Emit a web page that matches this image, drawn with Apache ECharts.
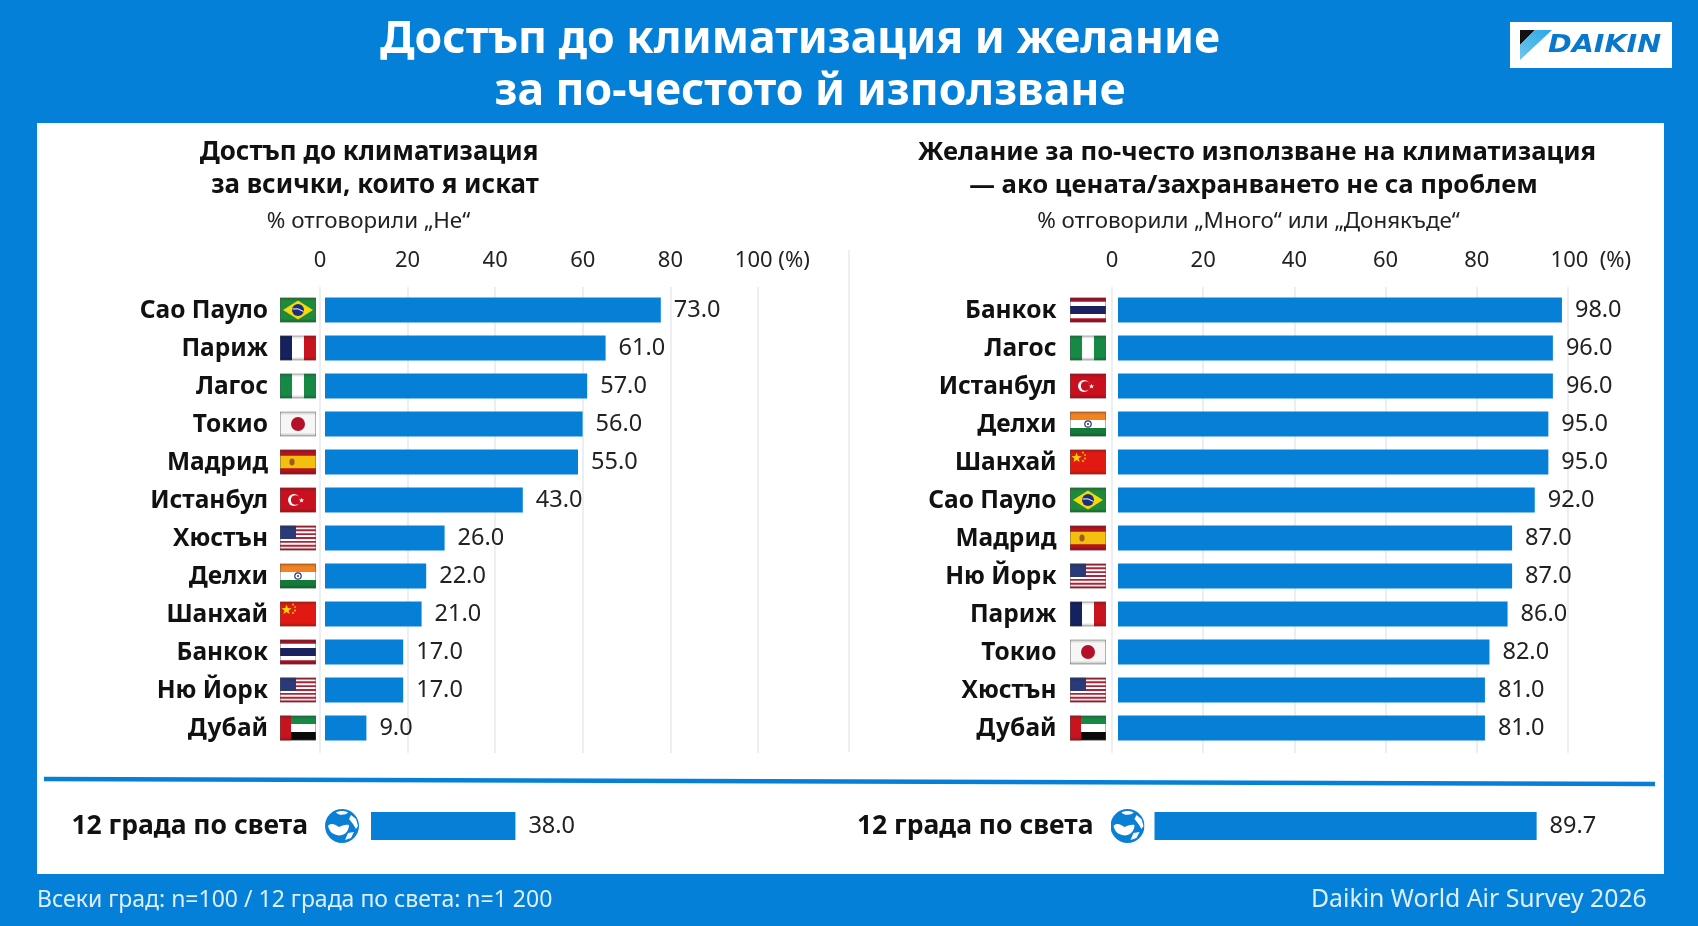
<!DOCTYPE html>
<html><head><meta charset="utf-8">
<style>html,body{margin:0;padding:0;background:#0580d8}#c{width:1698px;height:926px}</style>
<script src="https://cdn.jsdelivr.net/npm/echarts@6/dist/echarts.min.js"></script>
</head><body><div id="c"></div>
<script>
const citiesLeft = ['Сао Пауло','Париж','Лагос','Токио','Мадрид','Истанбул','Хюстън','Делхи','Шанхай','Банкок','Ню Йорк','Дубай'];
const valuesLeft = [73,61,57,56,55,43,26,22,21,17,17,9];
const flagsLeft = ['br','fr','ng','jp','es','tr','us','in','cn','th','us','ae'];
const citiesRight = ['Банкок','Лагос','Истанбул','Делхи','Шанхай','Сао Пауло','Мадрид','Ню Йорк','Париж','Токио','Хюстън','Дубай'];
const valuesRight = [98,96,96,95,95,92,87,87,86,82,81,81];
const flagsRight = ['th','ng','tr','in','cn','br','es','us','fr','jp','us','ae'];
const worldLabel = ['12 града по света'];
const worldLeft = [38.0];
const worldRight = [89.7];
const axisTicks = [0,20,40,60,80,100];

const FONT = '"Noto Sans"';
const BG = '#0580d8', BAR = '#0680d6', GRID = '#e6e8ec', INK = '#111111';

const usStripes = [0,2,4,6,8,10,12].map(i => `<rect y="${i*25/13}" width="36" height="${25/13}" fill="#b22234"/>`).join('');
const flagBody = {
  br:'<rect width="36" height="25" fill="#1f8a3b"/><path d="M18 3 33 12.5 18 22 3 12.5Z" fill="#f5d90a"/><circle cx="18" cy="12.5" r="6" fill="#1d2f7c"/><path d="M12.5 11.5Q18 10 23.5 14" stroke="#fff" stroke-width="1" fill="none"/>',
  fr:'<rect width="12" height="25" fill="#14235f"/><rect x="12" width="12" height="25" fill="#fff"/><rect x="24" width="12" height="25" fill="#c8141e"/>',
  ng:'<rect width="12" height="25" fill="#168a45"/><rect x="12" width="12" height="25" fill="#fff"/><rect x="24" width="12" height="25" fill="#168a45"/>',
  jp:'<rect width="36" height="25" fill="#f6f6f6"/><circle cx="18" cy="12.5" r="7" fill="#b5102a"/>',
  es:'<rect width="36" height="25" fill="#b31420"/><rect y="6.2" width="36" height="12.6" fill="#f4c010"/><ellipse cx="12" cy="12.5" rx="2.6" ry="3.4" fill="#9a5a20"/>',
  tr:'<rect width="36" height="25" fill="#c8101e"/><circle cx="14" cy="12.5" r="6" fill="#fff"/><circle cx="15.6" cy="12.5" r="4.8" fill="#c8101e"/><path d="M21.5 10.2 22.2 12 24.1 12.1 22.6 13.3 23.1 15.1 21.5 14 19.9 15.1 20.4 13.3 18.9 12.1 20.8 12Z" fill="#fff"/>',
  us:`<rect width="36" height="25" fill="#fff"/>${usStripes}<rect width="16" height="13.5" fill="#2a3a78"/>`,
  in:'<rect width="36" height="8.4" fill="#f58220"/><rect y="8.4" width="36" height="8.2" fill="#fff"/><rect y="16.6" width="36" height="8.4" fill="#147a38"/><circle cx="18" cy="12.5" r="3.2" fill="none" stroke="#26366e" stroke-width="1.2"/><circle cx="18" cy="12.5" r="1" fill="#26366e"/>',
  cn:'<rect width="36" height="25" fill="#e01a12"/><path d="M6.5 3 7.8 6.6 11.6 6.7 8.6 9 9.7 12.6 6.5 10.5 3.4 12.6 4.5 9 1.5 6.7 5.3 6.6Z" fill="#f8d30a"/><circle cx="13" cy="3" r=".9" fill="#f8d30a"/><circle cx="15" cy="5.6" r=".9" fill="#f8d30a"/><circle cx="15" cy="9" r=".9" fill="#f8d30a"/><circle cx="13" cy="11.5" r=".9" fill="#f8d30a"/>',
  th:'<rect width="36" height="25" fill="#a81428"/><rect y="4.2" width="36" height="16.6" fill="#fff"/><rect y="8.4" width="36" height="8.2" fill="#1a2260"/>',
  ae:'<rect width="36" height="8.4" fill="#168a45"/><rect y="8.4" width="36" height="8.2" fill="#fff"/><rect y="16.6" width="36" height="8.4" fill="#0a0a0a"/><rect width="11" height="25" fill="#c8141e"/>'
};
const svgUri = s => 'data:image/svg+xml;charset=utf-8,' + encodeURIComponent(s);
const flagUri = c => svgUri(`<svg xmlns="http://www.w3.org/2000/svg" width="72" height="50" viewBox="0 0 36 25"><defs><linearGradient id="g" x1="0" y1="0" x2="0" y2="1"><stop offset="0" stop-color="#000" stop-opacity=".22"/><stop offset=".15" stop-color="#000" stop-opacity="0"/><stop offset=".85" stop-color="#000" stop-opacity="0"/><stop offset="1" stop-color="#000" stop-opacity=".28"/></linearGradient></defs>${flagBody[c]}<rect width="36" height="25" fill="url(#g)"/><rect x=".4" y=".4" width="35.2" height="24.2" fill="none" stroke="#555" stroke-opacity=".6" stroke-width=".8"/></svg>`);
const globeUri = svgUri(`<svg xmlns="http://www.w3.org/2000/svg" width="68" height="68" viewBox="0 0 34 34"><circle cx="17" cy="17" r="17" fill="#0a7fd6"/><path d="M11 3.5C14 1.5 20 1.5 23 3.5 21 6 14 7 11 3.5Z" fill="#fff"/><path d="M26 6 31 10 33 17 31 20 28 15 24 10Z" fill="#fff"/><path d="M3 17C6 13 11 16 14 18 17 17 20 15 24 16 24 21 21 25 17 26 14 27 11 26 9 25 6 24 4 21 3 17Z" fill="#fff"/><path d="M23 24 29 23 26 29 20 31Z" fill="#fff"/></svg>`);

const makeRich = pad => {
  const r = {
    n:{fontFamily:FONT,fontWeight:'bold',fontSize:24.5,color:INK,padding:[2,pad,0,0]},
    w:{fontFamily:FONT,fontWeight:'bold',fontSize:26.5,color:INK,padding:[0,17,0,0]},
    g:{width:34,height:34,backgroundColor:{image:globeUri}}
  };
  Object.keys(flagBody).forEach(c => { r[c] = {width:36,height:25,backgroundColor:{image:flagUri(c)}}; });
  return r;
};

const tickAxis = (gi, fmt) => ({
  gridIndex:gi,type:'value',position:'top',min:0,max:100,interval:20,
  axisLine:{show:false},axisTick:{show:false},
  splitLine:{show:true,lineStyle:{color:GRID,width:1.5}},
  axisLabel:{margin:15,fontFamily:FONT,fontSize:22,color:'#222',hideOverlap:false,
    formatter:v => v===axisTicks[axisTicks.length-1] ? fmt : String(v)}
});
const hiddenX = (gi,max) => ({gridIndex:gi,type:'value',min:0,max,show:false});
const hiddenY = gi => ({gridIndex:gi,type:'value',show:false,min:0,max:1});
const catY = (gi,data,codes,margin,pad,key) => ({
  gridIndex:gi,type:'category',inverse:true,data,
  axisLine:{show:false},axisTick:{show:false},splitLine:{show:false},
  axisLabel:{margin,interval:0,rich:makeRich(pad),formatter:(v,i)=>`{${key}|${v}}{${codes[i]}|}`}
});
const bar = (xi,yi,data,w) => ({
  type:'bar',xAxisIndex:xi,yAxisIndex:yi,data,barWidth:w,silent:true,animation:false,
  itemStyle:{color:BAR},
  label:{show:true,position:'right',distance:13,fontFamily:FONT,fontSize:23.5,color:'#222',padding:[3,0,0,0],formatter:p=>p.value.toFixed(1)}
});
const t = (text,x,y,size,weight,color,align) => ({
  text,left:x,top:y,textAlign:align||'center',textVerticalAlign:'middle',padding:0,
  textStyle:{fontFamily:FONT,fontSize:size,fontWeight:weight,color}
});
const sp = '\u00a0';

const option = {
  backgroundColor:BG,animation:false,
  title:[
    t('Достъп до климатизация и желание',800,40,44.6,'bold','#fff'),
    t('за по-честото й използване',810,92,44.6,'bold','#fff'),
    t('Достъп до климатизация',369,153,25.9,'bold',INK),
    t('за всички, които я искат',375,186,25.9,'bold',INK),
    t('% отговорили „Не“',368.5,222,22.4,'normal','#222'),
    t('Желание за по-често използване на климатизация',1257,153,25.7,'bold',INK),
    t('— ако цената/захранването не са проблем',1253.5,186,25.7,'bold',INK),
    t('% отговорили „Много“ или „Донякъде“',1248.5,222,22.4,'normal','#222'),
    t('Всеки град: n=100 / 12 града по света: n=1 200',37,900,23,'normal','#dcefff','left'),
    t('Daikin World Air Survey 2026',1311,900,24.8,'normal','#dcefff','left')
  ],
  grid:[
    {left:320,top:287,width:438,height:466},
    {left:325,top:291,width:460,height:456},
    {left:371,top:812,width:380,height:28},
    {left:1112,top:287,width:456,height:466},
    {left:1118,top:291,width:453,height:456},
    {left:1154.5,top:812,width:426,height:28}
  ],
  xAxis:[
    tickAxis(0,sp.repeat(5)+'100 (%)'),hiddenX(1,100),hiddenX(2,100),
    tickAxis(3,sp.repeat(8)+'100'+sp+sp+'(%)'),hiddenX(4,100),hiddenX(5,100)
  ],
  yAxis:[
    hiddenY(0),catY(1,citiesLeft,flagsLeft,9,12,'n'),catY(2,worldLabel,['g'],12,12,'w'),
    hiddenY(3),catY(4,citiesRight,flagsRight,12,13.5,'n'),catY(5,worldLabel,['g'],10,12,'w')
  ],
  series:[
    bar(1,1,valuesLeft,25),bar(2,2,worldLeft,28),
    bar(4,4,valuesRight,25),bar(5,5,worldRight,28)
  ],
  graphic:[
    {type:'rect',z:-10,shape:{x:37,y:123,width:1627,height:751},style:{fill:'#fff'}},
    {type:'line',z:-5,shape:{x1:849,y1:250,x2:849,y2:752},style:{stroke:GRID,lineWidth:1.5}},
    {type:'line',shape:{x1:44,y1:779,x2:1655,y2:784},style:{stroke:BAR,lineWidth:4.5}},
    {type:'rect',shape:{x:1510,y:22,width:162,height:46},style:{fill:'#fff'}},
    {type:'polygon',shape:{points:[[1520,30],[1535,30],[1520,45]]},style:{fill:'#111'}},
    {type:'polygon',shape:{points:[[1535,30],[1552,30],[1520,60],[1520,45]]},
      style:{fill:{type:'linear',x:0,y:1,x2:1,y2:0,colorStops:[{offset:0,color:'#6cc6ee'},{offset:1,color:'#2ba6e6'}]}}},
    {type:'text',x:1548,y:46,scaleX:1.19,style:{x:0,y:0,text:'DAIKIN',fill:'#0878cc',fontFamily:'"DejaVu Sans"',fontWeight:'bold',fontStyle:'italic',fontSize:24,textVerticalAlign:'middle'}}
  ]
};
const chart = echarts.init(document.getElementById('c'),null,{renderer:'canvas',width:1698,height:926});
chart.setOption(option);
</script></body></html>
